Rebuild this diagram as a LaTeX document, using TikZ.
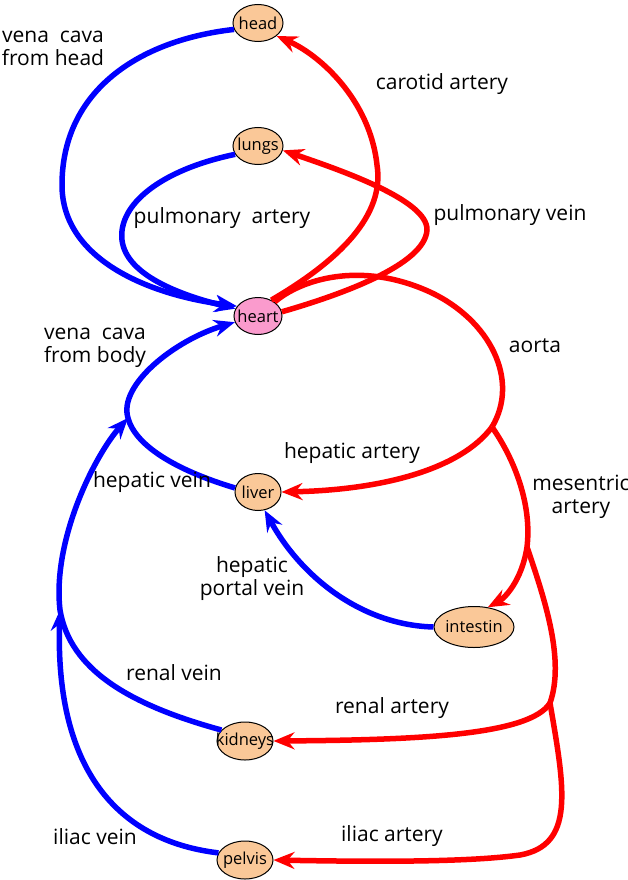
\documentclass[tikz,border=0pt]{standalone}
\usepackage{fontspec}
\setmainfont{Open Sans}
\usetikzlibrary{arrows.meta,shapes.geometric}
\definecolor{organpeach}{RGB}{250,200,152}
\definecolor{organpink} {RGB}{250,155,205}
\definecolor{veinblue}  {RGB}{0,0,255}
\definecolor{arteryred} {RGB}{255,0,0}
\tikzset{
  organ/.style={ellipse,draw=black,line width=1pt,fill=organpeach,
                inner xsep=-10pt,inner ysep=-2pt,
                minimum width=50pt,minimum height=37pt,
                font=\fontsize{16.5}{18}\selectfont,text=black},
  organheart/.style={organ,fill=organpink,minimum width=48pt},
  vessel/.style={line width=5.5pt,
                 -{Stealth[length=21pt,width=17pt,inset=7pt]}},
  vein/.style={vessel,draw=veinblue},
  artery/.style={vessel,draw=arteryred},
  trunk/.style={line width=5.5pt,draw=arteryred},
  lbl/.style={font=\fontsize{21}{23}\selectfont,align=center,
              inner sep=0pt,text=black},
}

\begin{document}
\begin{tikzpicture}[x=1pt,y=-1pt]
  \useasboundingbox (0,0) rectangle (627,880);

  \node[organ](head)          at (258,23)  {head};
  \node[organ](lungs)         at (258,146) {lungs};
  \node[organheart](heart)    at (258,316) {heart};
  \node[organ,minimum width=46pt](liver) at (258,492) {liver};
  \node[organ,minimum width=80pt,minimum height=41pt](intestin) at (474,627) {intestin};
  \node[organ,minimum width=56pt,minimum height=38pt](kidneys)  at (245,741) {kidneys};
  \node[organ,minimum width=56pt,minimum height=38pt](pelvis)   at (245,860) {pelvis};

  \coordinate (aortaJ) at (492,427);
  \coordinate (mesJ)   at (527,547);
  \coordinate (renJ)   at (550,703);
  \coordinate (hvJ)    at (128,418);
  \coordinate (rvJ)    at (60,610);

  % veins
  \draw[vein](head.195) .. controls (140,40) and (62,90) .. (62,185)
    .. controls (62,260) and (150,295) .. (heart.155);
  \draw[vein](lungs.200) .. controls (160,170) and (118,205) .. (122,240)
    .. controls (126,275) and (180,295) .. (heart.162);
  \draw[vein](liver.170) .. controls (175,470) and (135,445) .. (hvJ)
    .. controls (118,385) and (175,340) .. (heart.195);
  \draw[vein](intestin.west) .. controls (360,625) and (300,575) .. (liver.-70);
  \draw[vein](kidneys.155) .. controls (130,705) and (70,670) .. (rvJ)
    .. controls (52,540) and (95,455) .. (hvJ);
  \draw[vein](pelvis.165) .. controls (110,840) and (55,760) .. (rvJ);

  % arteries
  \draw[artery](heart.50) .. controls (340,260) and (385,215) .. (377,165)
    .. controls (370,100) and (320,55) .. (head.-35);
  \draw[artery](heart.10) .. controls (340,295) and (425,265) .. (427,230)
    .. controls (428,200) and (340,170) .. (lungs.-10);
  \draw[trunk](heart.40) .. controls (300,280) and (360,260) .. (430,292)
    .. controls (490,320) and (520,380) .. (aortaJ);
  \draw[artery](aortaJ) .. controls (460,470) and (380,490) .. (liver.east);
  \draw[artery](aortaJ) .. controls (515,460) and (532,505) .. (mesJ)
    .. controls (522,580) and (505,598) .. (intestin.55);
  \draw[trunk](mesJ) .. controls (545,600) and (565,660) .. (renJ);
  \draw[artery](renJ) .. controls (530,735) and (420,740) .. (kidneys.east);
  \draw[artery](renJ) .. controls (565,790) and (575,845) .. (520,855)
    .. controls (470,862) and (380,862) .. (pelvis.east);

  \node[lbl](lVcHead)   at (53,48)   {vena\ \ cava\\from head};
  \node[lbl](lCarotid)  at (442,84)  {carotid artery};
  \node[lbl](lPulmArt)  at (222,218) {pulmonary\ \ artery};
  \node[lbl](lPulmVein) at (510,215) {pulmonary vein};
  \node[lbl](lVcBody)   at (95,348)  {vena\ \ cava\\from body};
  \node[lbl](lAorta)    at (535,346) {aorta};
  \node[lbl](lHepArt)   at (352,453) {hepatic artery};
  \node[lbl](lHepVein)  at (152,482) {hepatic vein};
  \node[lbl](lMesArt)   at (581,497) {mesentric\\artery};
  \node[lbl](lPortal)   at (252,579) {hepatic\\portal vein};
  \node[lbl](lRenVein)  at (174,673) {renal vein};
  \node[lbl](lRenArt)   at (392,708) {renal artery};
  \node[lbl](lIlVein)   at (95,837)  {iliac vein};
  \node[lbl](lIlArt)    at (392,836) {iliac artery};
\end{tikzpicture}
\end{document}
